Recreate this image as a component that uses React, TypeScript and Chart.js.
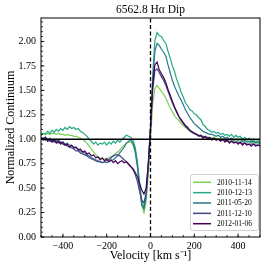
import React, { useEffect, useRef } from "react";
import { Chart, registerables } from "chart.js";

Chart.register(...registerables);

const velocity = [
  -500, -490, -480, -470, -460, -450, -440, -430, -420, -410,
  -400, -390, -380, -370, -360, -350, -340, -330, -320, -310,
  -300, -290, -280, -270, -260, -250, -240, -230, -220, -210,
  -200, -190, -180, -170, -160, -150, -140, -130, -120, -110,
  -100, -90, -80, -70, -60, -50, -40, -30, -20, -10,
  0, 10, 20, 30, 40, 50, 60, 70, 80, 90,
  100, 110, 120, 130, 140, 150, 160, 170, 180, 190,
  200, 210, 220, 230, 240, 250, 260, 270, 280, 290,
  300, 310, 320, 330, 340, 350, 360, 370, 380, 390,
  400, 410, 420, 430, 440, 450, 460, 470, 480, 490,
  500,
];

const dates = ["2010-11-14", "2010-12-13", "2011-05-20", "2011-12-10", "2012-01-06"];
const colors = ["#7ad151", "#22a884", "#2a788e", "#414487", "#440154"];

const flux20101114 = [
  1.05, 1.06, 1.05, 1.06, 1.05, 1.06, 1.06, 1.05, 1.06, 1.05,
  1.05, 1.04, 1.05, 1.04, 1.04, 1.03, 1.03, 1.02, 1.01, 1.0,
  0.98, 0.96, 0.93, 0.9, 0.87, 0.84, 0.82, 0.81, 0.8, 0.8,
  0.8, 0.81, 0.82, 0.83, 0.85, 0.87, 0.89, 0.92, 0.94, 0.96,
  0.97, 0.97, 0.94, 0.87, 0.74, 0.52, 0.32, 0.25, 0.36, 0.64,
  1.0, 1.36, 1.52, 1.55, 1.52, 1.49, 1.46, 1.42, 1.37, 1.32,
  1.28, 1.24, 1.21, 1.19, 1.16, 1.14, 1.12, 1.1, 1.08, 1.07,
  1.06, 1.05, 1.04, 1.04, 1.03, 1.03, 1.02, 1.02, 1.01, 1.02,
  1.01, 1.0, 1.01, 1.0, 1.0, 0.99, 1.0, 0.99, 0.99, 0.98,
  0.99, 0.98, 0.98, 0.97, 0.98, 0.97, 0.97, 0.96, 0.97, 0.96,
  0.96,
];

const flux20101213 = [
  1.04, 1.06, 1.05, 1.08, 1.06, 1.09, 1.07, 1.1, 1.08, 1.11,
  1.09, 1.12, 1.1, 1.13, 1.11, 1.12, 1.1, 1.11, 1.08, 1.07,
  1.05, 1.03, 1.0, 0.98, 0.95, 0.97, 0.94, 0.96, 0.95, 0.97,
  0.94, 0.97, 0.95, 0.98, 0.96, 0.99, 0.97, 1.0, 1.02, 1.04,
  1.03, 1.02, 0.99, 0.92, 0.78, 0.56, 0.37, 0.3, 0.43, 0.72,
  1.12, 1.66, 2.01, 2.09, 2.06, 2.05, 2.01, 1.98, 1.9, 1.83,
  1.75, 1.69, 1.61, 1.55, 1.48, 1.43, 1.37, 1.34, 1.3, 1.29,
  1.26, 1.25, 1.22, 1.2, 1.15, 1.13, 1.1, 1.09, 1.07, 1.08,
  1.06, 1.07, 1.05, 1.06, 1.04, 1.05, 1.03, 1.05, 1.02, 1.04,
  1.02, 1.03, 1.0, 1.02, 0.99, 1.01, 0.98, 1.0, 0.97, 0.99,
  0.97,
];

const flux20110520 = [
  1.02, 1.01, 1.02, 1.0, 1.01, 0.99, 1.0, 0.98, 0.99, 0.97,
  0.97, 0.95, 0.96, 0.94, 0.93, 0.92, 0.91, 0.9, 0.88, 0.87,
  0.86, 0.84, 0.83, 0.81, 0.8, 0.79, 0.78, 0.77, 0.76, 0.77,
  0.76, 0.77, 0.78, 0.79, 0.81, 0.83, 0.86, 0.89, 0.92, 0.96,
  0.98, 0.99, 0.96, 0.88, 0.72, 0.51, 0.33, 0.29, 0.41, 0.72,
  1.1, 1.58, 1.9, 1.98, 1.96, 1.92, 1.89, 1.85, 1.76, 1.68,
  1.6, 1.54, 1.49, 1.44, 1.4, 1.35, 1.3, 1.26, 1.22, 1.19,
  1.16, 1.14, 1.12, 1.1, 1.08, 1.07, 1.06, 1.05, 1.05, 1.04,
  1.03, 1.04, 1.02, 1.03, 1.01, 1.02, 1.0, 1.01, 0.99, 1.0,
  0.99, 1.0, 0.98, 0.99, 0.97, 0.98, 0.97, 0.98, 0.96, 0.97,
  0.96,
];

const flux20111210 = [
  1.0, 1.01, 0.99, 1.0, 0.98, 0.99, 0.97, 0.98, 0.96, 0.97,
  0.95, 0.94, 0.93, 0.92, 0.91, 0.9, 0.88, 0.88, 0.86, 0.85,
  0.84, 0.83, 0.81, 0.8, 0.79, 0.78, 0.77, 0.77, 0.76, 0.77,
  0.78, 0.79, 0.81, 0.83, 0.84, 0.84, 0.83, 0.81, 0.79, 0.77,
  0.75, 0.72, 0.69, 0.64, 0.57, 0.47, 0.38, 0.35, 0.45, 0.74,
  1.1, 1.5, 1.7, 1.72, 1.68, 1.64, 1.6, 1.55, 1.49, 1.43,
  1.37, 1.32, 1.27, 1.23, 1.19, 1.16, 1.13, 1.11, 1.09, 1.07,
  1.06, 1.05, 1.04, 1.03, 1.03, 1.02, 1.02, 1.01, 1.01, 1.0,
  1.0, 1.0, 0.99, 0.99, 0.99, 0.98, 0.98, 0.98, 0.97, 0.97,
  0.97, 0.96, 0.96, 0.96, 0.95, 0.95, 0.95, 0.95, 0.94, 0.94,
  0.94,
];

const flux20120106 = [
  1.01, 0.99, 1.02, 0.98, 1.0, 0.97, 0.99, 0.96, 0.98, 0.95,
  0.97, 0.94, 0.95, 0.92, 0.94, 0.91, 0.92, 0.89, 0.9, 0.87,
  0.88, 0.85, 0.86, 0.83, 0.84, 0.81, 0.82, 0.79, 0.81, 0.78,
  0.8, 0.77, 0.79, 0.76, 0.78, 0.75, 0.77, 0.78, 0.76, 0.77,
  0.74, 0.72, 0.7, 0.66, 0.62, 0.55, 0.48, 0.44, 0.5, 0.76,
  1.12, 1.56, 1.76, 1.79, 1.71, 1.67, 1.63, 1.58, 1.51, 1.45,
  1.39, 1.33, 1.28, 1.23, 1.2, 1.17, 1.14, 1.12, 1.09, 1.08,
  1.06, 1.05, 1.03, 1.04, 1.01, 1.03, 1.0, 1.02, 0.99, 1.01,
  0.99, 1.0, 0.98, 1.0, 0.97, 0.99, 0.96, 0.98, 0.96, 0.97,
  0.95, 0.97, 0.94, 0.96, 0.94, 0.95, 0.93, 0.95, 0.93, 0.94,
  0.93,
];

const series = [flux20101114, flux20101213, flux20110520, flux20111210, flux20120106];

const xTicks = [-400, -200, 0, 200, 400];
const yTicks = [0, 0.25, 0.5, 0.75, 1.0, 1.25, 1.5, 1.75, 2.0];
const xRange = [-500, 500];
const yRange = [0, 2.24];
const continuumLevel = 1.0;
const restVelocity = 0;

const titleText = "6562.8 H\u03b1 Dip";
const xLabel = "Velocity [km s\u207b\u00b9]";
const yLabel = "Normalized Continuum";

const FONT = "'Liberation Serif', 'Times New Roman', serif";

const decorPlugin = {
  id: "decor",
  afterDraw(chart: any) {
    const ctx = chart.ctx;
    const area = chart.chartArea;
    const xs = chart.scales.x;
    const ys = chart.scales.y;
    ctx.save();

    // frame
    ctx.strokeStyle = "#000";
    ctx.lineWidth = 1;
    ctx.strokeRect(area.left, area.top, area.right - area.left, area.bottom - area.top);

    // ticks (inward, left & bottom)
    ctx.lineWidth = 0.8;
    ctx.beginPath();
    for (let i = 0; i < yTicks.length; i++) {
      const py = ys.getPixelForValue(yTicks[i]);
      ctx.moveTo(area.left, py);
      ctx.lineTo(area.left + 3.5, py);
    }
    const yStep = yTicks[1] - yTicks[0];
    for (let v = yRange[0]; v <= yRange[1] + 1e-9; v += yStep / 5) {
      const py = ys.getPixelForValue(v);
      ctx.moveTo(area.left, py);
      ctx.lineTo(area.left + 2, py);
    }
    for (let i = 0; i < xTicks.length; i++) {
      const px = xs.getPixelForValue(xTicks[i]);
      ctx.moveTo(px, area.bottom);
      ctx.lineTo(px, area.bottom - 3.5);
    }
    const xStep = xTicks[1] - xTicks[0];
    for (let v = xRange[0]; v <= xRange[1] + 1e-9; v += xStep / 4) {
      const px = xs.getPixelForValue(v);
      ctx.moveTo(px, area.bottom);
      ctx.lineTo(px, area.bottom - 2);
    }
    ctx.stroke();

    // title
    ctx.fillStyle = "#000";
    ctx.textAlign = "center";
    ctx.textBaseline = "middle";
    ctx.font = `11.5px ${FONT}`;
    ctx.fillText(titleText, (area.left + area.right) / 2, 10);

    // axis labels
    ctx.font = `12px ${FONT}`;
    ctx.fillText(xLabel, (area.left + area.right) / 2, 256);
    ctx.save();
    ctx.translate(11, (area.top + area.bottom) / 2);
    ctx.rotate(-Math.PI / 2);
    ctx.fillText(yLabel, 0, 0);
    ctx.restore();

    // legend
    const bx = 190, by = 174, bw = 68, bh = 56;
    ctx.fillStyle = "rgba(255,255,255,0.9)";
    ctx.strokeStyle = "#d0d0d0";
    ctx.lineWidth = 1;
    ctx.beginPath();
    ctx.roundRect(bx + 0.5, by + 0.5, bw, bh, 2);
    ctx.fill();
    ctx.stroke();
    ctx.font = `7.5px ${FONT}`;
    ctx.textAlign = "left";
    for (let i = 0; i < dates.length; i++) {
      const ly = 182.3 + i * 10.35;
      ctx.strokeStyle = colors[i];
      ctx.lineWidth = 1.5;
      ctx.beginPath();
      ctx.moveTo(193, ly);
      ctx.lineTo(211, ly);
      ctx.stroke();
      ctx.fillStyle = "#000";
      ctx.fillText(dates[i], 217, ly + 0.5);
    }
    ctx.restore();
  },
};

export default function App() {
  const canvasRef = useRef<HTMLCanvasElement | null>(null);

  useEffect(() => {
    if (!canvasRef.current) return;
    const dataSets: any[] = series.map((vals, i) => ({
      label: dates[i],
      data: velocity.map((v, k) => ({ x: v, y: vals[k] })),
      borderColor: colors[i],
      borderWidth: 1.2,
      pointRadius: 0,
      tension: 0,
      fill: false,
      order: 10 - i,
    }));
    dataSets.push({
      label: "continuum",
      data: [
        { x: xRange[0], y: continuumLevel },
        { x: xRange[1], y: continuumLevel },
      ],
      borderColor: "#000",
      borderWidth: 1.3,
      pointRadius: 0,
      order: 0,
    });
    dataSets.push({
      label: "rest",
      data: [
        { x: restVelocity, y: yRange[0] },
        { x: restVelocity, y: yRange[1] },
      ],
      borderColor: "#000",
      borderWidth: 1.3,
      borderDash: [4, 2.5],
      pointRadius: 0,
      order: 0,
    });

    const chart = new Chart(canvasRef.current, {
      type: "line",
      data: { datasets: dataSets },
      options: {
        animation: false,
        responsive: false,
        layout: { padding: { top: 18, right: 6, left: 0, bottom: 0 } },
        plugins: {
          legend: { display: false },
          title: { display: false },
          tooltip: { enabled: false },
        },
        scales: {
          x: {
            type: "linear",
            min: xRange[0],
            max: xRange[1],
            grid: { display: false, drawTicks: false },
            border: { display: false },
            afterBuildTicks: (s: any) => {
              s.ticks = xTicks.map((v) => ({ value: v }));
            },
            afterFit: (s: any) => {
              s.height = 32;
            },
            ticks: {
              autoSkip: false,
              maxRotation: 0,
              padding: 3,
              color: "#000",
              font: { family: FONT, size: 10 },
              callback: (v: any) => (Number(v) < 0 ? "\u2212" + Math.abs(Number(v)) : String(v)),
            },
          },
          y: {
            type: "linear",
            min: yRange[0],
            max: yRange[1],
            grid: { display: false, drawTicks: false },
            border: { display: false },
            afterBuildTicks: (s: any) => {
              s.ticks = yTicks.map((v) => ({ value: v }));
            },
            afterFit: (s: any) => {
              s.width = 41;
            },
            ticks: {
              autoSkip: false,
              padding: 5,
              color: "#000",
              font: { family: FONT, size: 10 },
              callback: (v: any) => Number(v).toFixed(2),
            },
          },
        },
      },
      plugins: [decorPlugin],
    });
    return () => chart.destroy();
  }, []);

  return (
    <div style={{ position: "absolute", left: 0, top: 0, width: 266, height: 269, background: "#fff" }}>
      <canvas ref={canvasRef} width={266} height={269} />
    </div>
  );
}
